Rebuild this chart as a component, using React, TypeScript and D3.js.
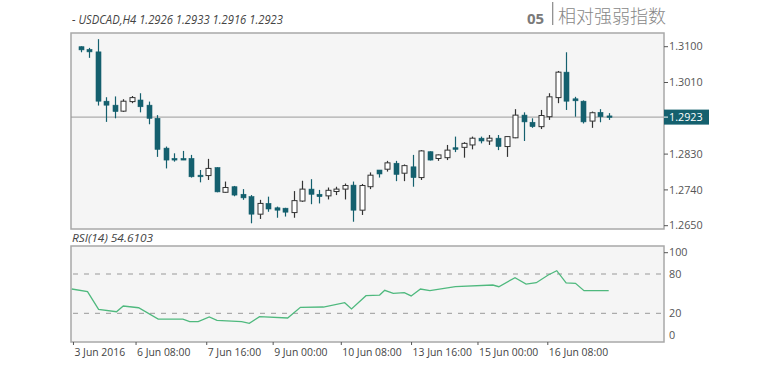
import * as d3 from "d3";

// USDCAD H4 candles + RSI(14), 3 Jun – 17 Jun 2016
const open = [
  1.31, 1.3093, 1.3087, 1.2963, 1.2953, 1.2938, 1.2962, 1.2966, 1.2953, 1.292,
  1.2845, 1.2819, 1.2819, 1.2819, 1.2777, 1.2776, 1.2796, 1.2734, 1.2748, 1.2729,
  1.2723, 1.2679, 1.2706, 1.2695, 1.2694, 1.2683, 1.2712, 1.2742, 1.2729, 1.2725,
  1.2736, 1.2742, 1.2752, 1.2689, 1.2748, 1.279, 1.2792, 1.2807, 1.2782, 1.2798,
  1.2771, 1.2836, 1.2819, 1.2821, 1.2846, 1.2847, 1.2853, 1.287, 1.2863, 1.287,
  1.2849, 1.2871, 1.2928, 1.291, 1.2899, 1.2924, 1.2972, 1.3036, 1.2969, 1.2963,
  1.2913, 1.2935, 1.2926,
];
const high = [
  1.3101, 1.3097, 1.3119, 1.2973, 1.2975, 1.2968, 1.2976, 1.2983, 1.2962, 1.2928,
  1.2849, 1.2832, 1.2838, 1.2828, 1.279, 1.2818, 1.2797, 1.2761, 1.275, 1.2742,
  1.2727, 1.2715, 1.2723, 1.2698, 1.2695, 1.2737, 1.2763, 1.2767, 1.274, 1.2746,
  1.2748, 1.2756, 1.2761, 1.2755, 1.2784, 1.279, 1.2813, 1.2813, 1.2804, 1.2828,
  1.284, 1.2837, 1.2829, 1.2853, 1.2874, 1.286, 1.2874, 1.2874, 1.2878, 1.2878,
  1.2874, 1.2943, 1.2935, 1.292, 1.2941, 1.2983, 1.3039, 1.3086, 1.2974, 1.2965,
  1.2937, 1.2943, 1.2933,
];
const low = [
  1.3086, 1.3072, 1.2952, 1.2911, 1.292, 1.2936, 1.2958, 1.2935, 1.2905, 1.2823,
  1.2794, 1.2811, 1.2815, 1.2771, 1.2759, 1.2765, 1.2734, 1.2733, 1.2724, 1.2715,
  1.2656, 1.2667, 1.2685, 1.267, 1.2673, 1.267, 1.271, 1.2704, 1.2706, 1.2716,
  1.2727, 1.2716, 1.266, 1.2677, 1.2742, 1.2771, 1.2786, 1.2762, 1.2762, 1.2748,
  1.2765, 1.2814, 1.2813, 1.2815, 1.2835, 1.2821, 1.2842, 1.2857, 1.2853, 1.284,
  1.2823, 1.287, 1.2863, 1.2896, 1.2893, 1.2916, 1.2958, 1.2941, 1.2924, 1.2907,
  1.2896, 1.291, 1.2916,
];
const close = [
  1.3092, 1.3087, 1.2963, 1.2953, 1.2937, 1.2963, 1.2972, 1.2949, 1.292, 1.2842,
  1.2815, 1.2815, 1.2815, 1.2773, 1.2773, 1.2794, 1.2735, 1.2746, 1.2727, 1.272,
  1.2679, 1.2706, 1.2692, 1.2689, 1.2684, 1.2713, 1.2742, 1.2729, 1.2723, 1.2739,
  1.2742, 1.2751, 1.2689, 1.2751, 1.2777, 1.278, 1.2808, 1.2779, 1.2801, 1.2771,
  1.2838, 1.2815, 1.2828, 1.284, 1.2842, 1.2857, 1.287, 1.2863, 1.287, 1.2849,
  1.2874, 1.2928, 1.2911, 1.2899, 1.2927, 1.2974, 1.3036, 1.2963, 1.2964, 1.2911,
  1.2934, 1.2924, 1.2923,
];

// RSI line vertices (position in bar units, value)
const rsiPos = [
  -1.05, 0.8, 2.1, 4.2, 5, 6.8, 9.1, 12, 12.8, 13.8, 15.1, 16, 18.9, 19.8, 21, 24.3,
  25.8, 28.5, 31, 31.8, 33.5, 35.1, 35.7, 36.7, 38, 38.8, 39.9, 41, 44, 48.4, 49.1,
  51, 52.3, 53.5, 54.9, 55.9, 57, 58.1, 59.1, 62,
];
const rsiVal = [
  57.1, 53, 26.1, 22.4, 31.1, 28.5, 14.7, 14.7, 12.3, 12.3, 16.6, 13.5, 12.3, 10.8,
  16.9, 15.7, 29.2, 29.6, 36.2, 26.6, 46.9, 47.9, 55.1, 50.5, 51.5, 46.5, 57.1, 54.5,
  60.6, 63.2, 60.6, 74.4, 64.7, 66.7, 78.5, 83.1, 66.3, 65.8, 54.5, 54.61,
];

const priceTicks = [1.31, 1.301, 1.283, 1.274, 1.265];
const rsiTicks = [100, 80, 20, 0];
const rsiLevels = [80, 20];
const dateTickPos = [-0.85, 6.5, 14.8, 22.6, 30.6, 38.85, 46.65, 54.85];
const dateTickLabels = [
  "3 Jun 2016", "6 Jun 08:00", "7 Jun 16:00", "9 Jun 00:00",
  "10 Jun 08:00", "13 Jun 16:00", "15 Jun 00:00", "16 Jun 08:00",
];

const W = 766;
const H = 373;
const L = 71;
const R = 664;
const MT = 33;
const MB = 229;
const RT = 246;
const RB = 342;

const TEAL = "#14606e";
const FONT = "'Open Sans', 'DejaVu Sans', sans-serif";

const x = d3.scaleLinear().domain([0, open.length - 1]).range([80.7, 608.7]);
const y = d3.scaleLinear().domain([1.265, 1.31]).range([225.7, 46.7]);
const yr = d3.scaleLinear().domain([0, 20, 80, 100]).range([335, 313.3, 274, 252.7]);
const fmt = d3.format(".4f");

const rsiLine = d3
  .line<number>()
  .x((_, i) => x(rsiPos[i]))
  .y((v) => yr(v));

export default function App() {
  const last = close[close.length - 1];
  return (
    <svg width={W} height={H} style={{ position: "absolute", left: 0, top: 0, background: "#fff" }}>
      <defs>
        <clipPath id="rsiClip">
          <rect x={L} y={RT} width={R - L} height={RB - RT} />
        </clipPath>
      </defs>

      {/* header */}
      <text x={72} y={24} fontFamily={FONT} fontStyle="italic" fontSize={11.8} fill="#444" textLength={211} lengthAdjust="spacingAndGlyphs">
        - USDCAD,H4 1.2926 1.2933 1.2916 1.2923
      </text>
      <text x={527} y={24} fontFamily={FONT} fontWeight={700} fontSize={15} fill="#7a7a7a">05</text>
      <line x1={552.7} x2={552.7} y1={2} y2={25} stroke="#888" strokeWidth={1.2} />
      <text x={558} y={23} fontFamily="'Noto Sans CJK SC', sans-serif" fontWeight={300} fontSize={18} fill="#888">
        相对强弱指数
      </text>

      {/* price panel */}
      <rect x={L} y={MT} width={R - L} height={MB - MT} fill="#f5f5f5" stroke="#a8a8a8" strokeWidth={1.5} />
      <line x1={L} x2={R} y1={y(last)} y2={y(last)} stroke="#9a9a9a" strokeWidth={1} />
      {open.map((o, i) => {
        const c = close[i];
        const bull = c > o;
        const cx = Math.round(x(i)) + 0.5;
        const top = y(Math.max(o, c));
        const bh = Math.max(1.5, y(Math.min(o, c)) - top);
        const col = bull ? "#333" : TEAL;
        return (
          <g key={i}>
            <line x1={cx} x2={cx} y1={y(high[i])} y2={y(low[i])} stroke={col} strokeWidth={1.2} />
            <rect
              x={cx - 2.5}
              y={top}
              width={5}
              height={bh}
              fill={bull ? "#fff" : TEAL}
              stroke={col}
              strokeWidth={bull ? 1 : 0.6}
            />
          </g>
        );
      })}
      {priceTicks.map((t) => (
        <g key={t}>
          <line x1={R} x2={R + 4} y1={y(t)} y2={y(t)} stroke="#555" />
          <text x={R + 5} y={y(t)} dy="0.35em" fontFamily={FONT} fontSize={10.8} fill="#555">
            {fmt(t)}
          </text>
        </g>
      ))}
      <rect x={R} y={y(last) - 7.5} width={45} height={15} fill={TEAL} />
      <line x1={R} x2={R + 4} y1={y(last)} y2={y(last)} stroke="#fff" />
      <text x={R + 5} y={y(last)} dy="0.35em" fontFamily={FONT} fontSize={10.8} fill="#fff">
        {fmt(last)}
      </text>

      {/* RSI panel */}
      <text x={72} y={242} fontFamily={FONT} fontStyle="italic" fontSize={11.2} fill="#444" textLength={81} lengthAdjust="spacingAndGlyphs">
        RSI(14) 54.6103
      </text>
      <rect x={L} y={RT} width={R - L} height={RB - RT} fill="#f5f5f5" stroke="#a8a8a8" strokeWidth={1.5} />
      {rsiLevels.map((v) => (
        <line key={v} x1={L + 2} x2={R - 2} y1={yr(v)} y2={yr(v)} stroke="#999" strokeDasharray="5,6" />
      ))}
      <path d={rsiLine(rsiVal) ?? ""} fill="none" stroke="#4fb97e" strokeWidth={1.3} clipPath="url(#rsiClip)" />
      {rsiTicks.map((t) => (
        <g key={t}>
          {t === 100 && <line x1={R} x2={R + 4} y1={yr(t)} y2={yr(t)} stroke="#555" />}
          <text x={R + 5} y={yr(t)} dy="0.35em" fontFamily={FONT} fontSize={10.8} fill="#555">
            {t}
          </text>
        </g>
      ))}

      {/* time axis */}
      {dateTickPos.map((p, i) => (
        <g key={p}>
          <line x1={x(p)} x2={x(p)} y1={RB} y2={RB + 3} stroke="#555" />
          <text x={x(p) + 1} y={356} fontFamily={FONT} fontSize={10.4} fill="#444">
            {dateTickLabels[i]}
          </text>
        </g>
      ))}
    </svg>
  );
}
